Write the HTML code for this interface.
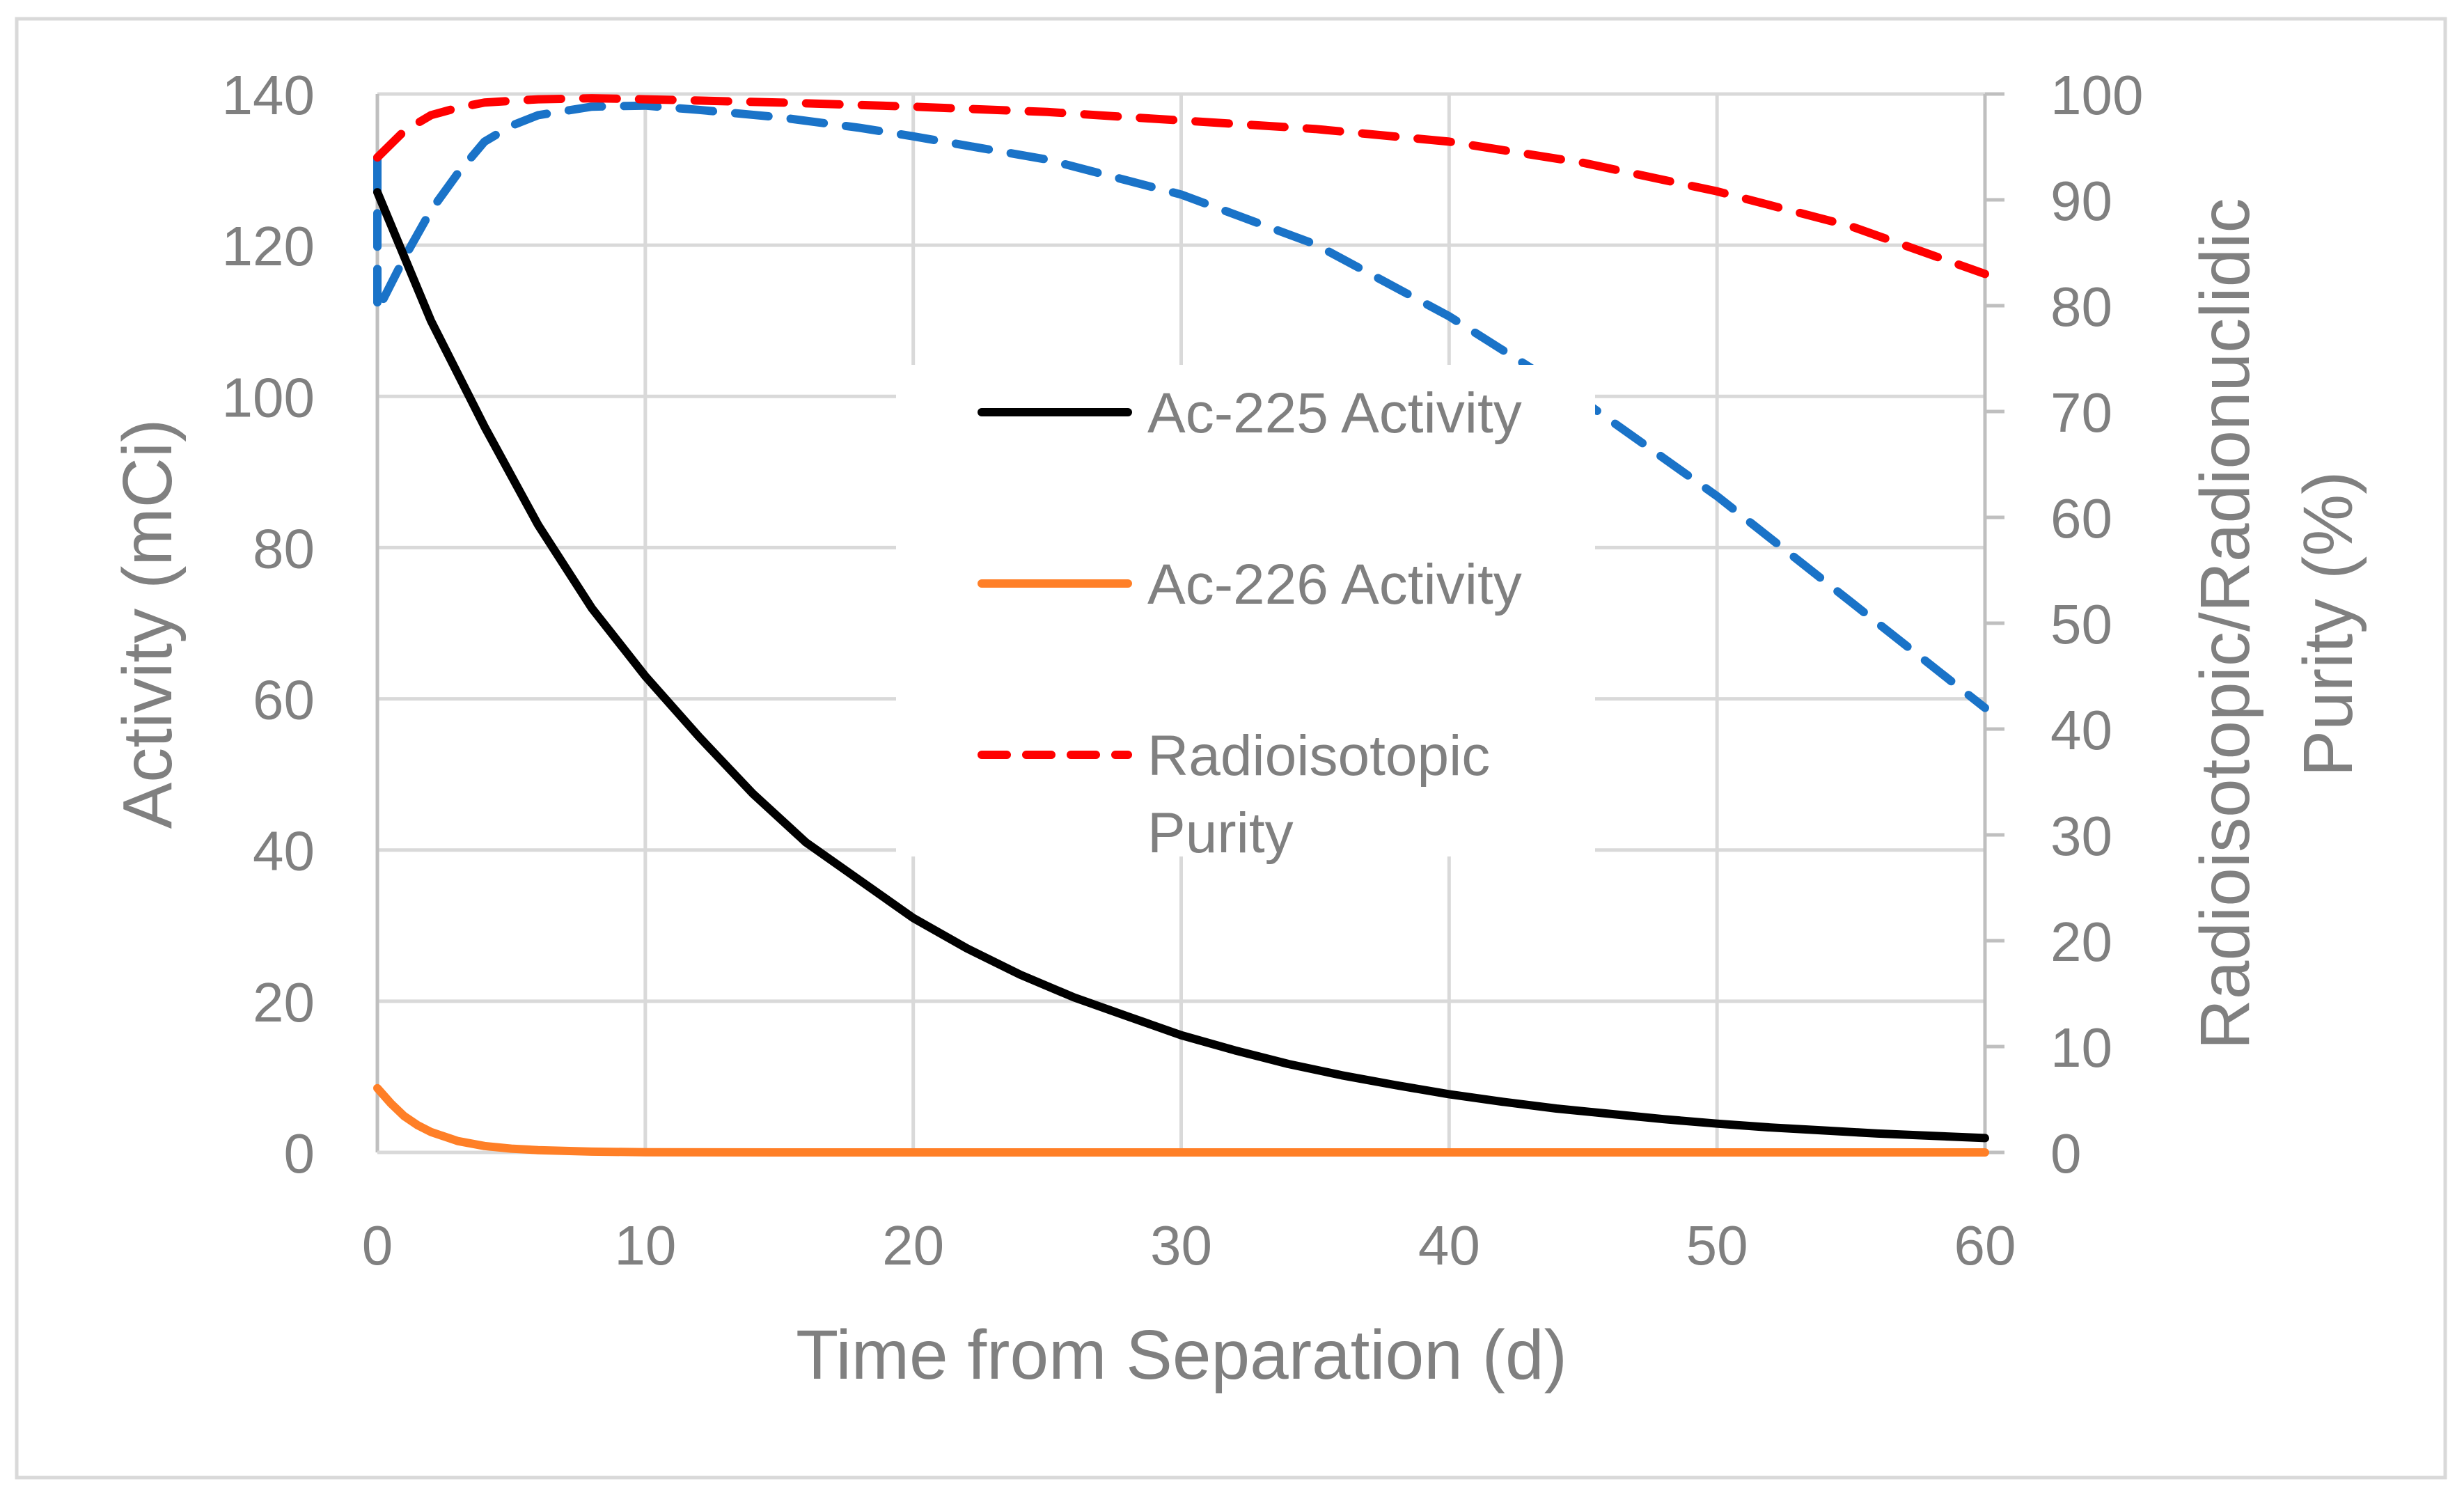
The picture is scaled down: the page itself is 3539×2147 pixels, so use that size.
<!DOCTYPE html>
<html><head><meta charset="utf-8"><style>
html,body{margin:0;padding:0;background:#fff;}
svg{display:block;font-family:"Liberation Sans",sans-serif;}
</style></head><body>
<svg id="chart" width="3539" height="2147" viewBox="0 0 3539 2147" xmlns="http://www.w3.org/2000/svg">
<rect x="24" y="27" width="3488" height="2095" fill="#fff" stroke="#d9d9d9" stroke-width="5"/>
<g id="grid"></g>
<g id="axes"></g>
<g id="series"></g>
<g id="labels"></g>
<g id="legend"></g>
</svg>
<script>
const ac225T=[0,2,4,6,8,10,12,14,16,18,20,22,24,26,28,30,32,34,36,38,40,42,44,46,48,50,52,54,56,58,60];
const ac225V=[127,110,96,83,72,63,55,47.5,41,36,31,27,23.5,20.5,18,15.5,13.5,11.7,10.2,8.9,7.7,6.7,5.8,5.1,4.4,3.8,3.3,2.9,2.5,2.2,1.9];
const ac226T=[0,0.5,1,1.5,2,3,4,5,6,8,10,15,20,30,40,50,60];
const ac226V=[8.5,6.5,4.8,3.6,2.7,1.5,0.85,0.5,0.3,0.1,0.03,0,0,0,0,0,0];
const redT=[0,1,2,3,4,6,8,10,15,20,25,30,35,40,45,50,55,60];
const redV=[94,96.5,98,98.7,99.2,99.5,99.6,99.5,99.2,98.8,98.3,97.5,96.7,95.5,93.5,90.8,87.5,83];
const blueT=[0,0,0.5,1,2,3,4,5,6,8,10,12,15,18,20,25,30,35,40,45,50,55,60];
const blueV=[94,79.5,82,84.5,89,92.5,95.5,97,98,98.8,98.9,98.5,97.8,96.8,96,93.8,90.5,85.8,79,71,62,52,42];
const xTicks=[0,10,20,30,40,50,60];
const yTicks=[0,20,40,60,80,100,120,140];
const y2Ticks=[0,10,20,30,40,50,60,70,80,90,100];

const L=542,R=2851,T=135,B=1655;
const X=t=>L+(R-L)*t/60;
const Y=v=>B-(B-T)*v/140;
const Y2=v=>B-(B-T)*v/100;
const NS="http://www.w3.org/2000/svg";
function mk(tag,parent,attrs){const e=document.createElementNS(NS,tag);for(const k in attrs)e.setAttribute(k,attrs[k]);document.getElementById(parent).appendChild(e);return e;}

xTicks.forEach(t=>{
 if(t>0&&t<60){const g=mk('line','grid',{x1:X(t),x2:X(t),y1:T,y2:B,stroke:'#d9d9d9','stroke-width':5});
 
 }
 const tx=mk('text','labels',{x:X(t),y:1816,'text-anchor':'middle','font-size':80,fill:'#808080'});
 tx.textContent=t;
 
 
});
yTicks.forEach(v=>{
 if(v>0){const g=mk('line','grid',{x1:L,x2:R,y1:Y(v),y2:Y(v),stroke:'#d9d9d9','stroke-width':5});
 
 }
 const tx=mk('text','labels',{x:452,y:Y(v)+29,'text-anchor':'end','font-size':80,fill:'#808080'});
 tx.textContent=v;
 
 
});
y2Ticks.forEach(v=>{
 const tk=mk('line','axes',{x1:R,x2:R+28,y1:Y2(v),y2:Y2(v),stroke:'#bfbfbf','stroke-width':5});
 
 
 const tx=mk('text','labels',{x:2945,y:Y2(v)+29,'text-anchor':'start','font-size':80,fill:'#808080'});
 tx.textContent=v;
 
 
});
let a=mk('line','axes',{x1:L,x2:L,y1:T,y2:B,stroke:'#bfbfbf','stroke-width':5});


a=mk('line','axes',{x1:R,x2:R,y1:T,y2:B,stroke:'#bfbfbf','stroke-width':5});


a=mk('line','axes',{x1:L,x2:R,y1:B,y2:B,stroke:'#d9d9d9','stroke-width':5});



function pts(ts,vs,f){return ts.map((t,i)=>X(t).toFixed(1)+','+f(vs[i]).toFixed(1)).join(' ');}
let p=mk('polyline','series',{points:pts(blueT,blueV,Y2),fill:'none',stroke:'#1a73c8','stroke-width':12,'stroke-dasharray':'48 32','stroke-linecap':'round','stroke-linejoin':'round'});


p=mk('polyline','series',{points:pts(redT,redV,Y2),fill:'none',stroke:'#ff0000','stroke-width':12,'stroke-dasharray':'48 32','stroke-linecap':'round','stroke-linejoin':'round'});


p=mk('polyline','series',{points:pts(ac226T,ac226V,Y),fill:'none',stroke:'#ff7f27','stroke-width':12,'stroke-linecap':'round','stroke-linejoin':'round'});


p=mk('polyline','series',{points:pts(ac225T,ac225V,Y),fill:'none',stroke:'#000','stroke-width':12,'stroke-linecap':'round','stroke-linejoin':'round'});



let t=mk('text','labels',{x:1697,y:1980,'text-anchor':'middle','font-size':100,fill:'#808080'});
t.textContent='Time from Separation (d)';


t=mk('text','labels',{x:0,y:0,transform:'translate(246,896) rotate(-90)','text-anchor':'middle','font-size':100,fill:'#808080'});
t.textContent='Activity (mCi)';


t=mk('text','labels',{x:0,y:0,transform:'translate(3230,896) rotate(-90)','text-anchor':'middle','font-size':100,fill:'#808080'});
t.textContent='Radioisotopic/Radionuclidic';


t=mk('text','labels',{x:0,y:0,transform:'translate(3378,896) rotate(-90)','text-anchor':'middle','font-size':100,fill:'#808080'});
t.textContent='Purity (%)';



const lb=mk('rect','legend',{x:1287,y:524,width:1004,height:706,fill:'#fff'});


const legNames=['Ac-225 Activity','Ac-226 Activity','Radioisotopic'];
const legColors=['#000','#ff7f27','#ff0000'];
const legY=[592,838,1084];
legNames.forEach((n,i)=>{
 const l=mk('line','legend',{x1:1410,x2:1620,y1:legY[i],y2:legY[i],stroke:legColors[i],'stroke-width':12,'stroke-linecap':'round'});
 if(i==2)l.setAttribute('stroke-dasharray','36 28');
 
 
 const tx=mk('text','legend',{x:1648,y:legY[i]+29,'font-size':82,fill:'#808080'});
 tx.textContent=n;
 
 
});
const t2=mk('text','legend',{x:1648,y:1224,'font-size':82,fill:'#808080'});
t2.textContent='Purity';


</script>
</body></html>
